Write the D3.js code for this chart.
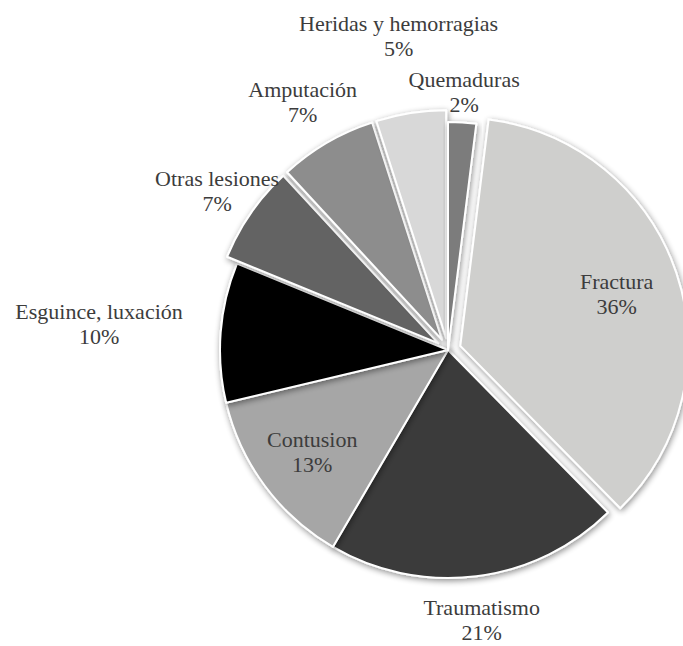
<!DOCTYPE html>
<html><head><meta charset="utf-8">
<script src="https://cdn.jsdelivr.net/npm/d3@7"></script>
<style>html,body{margin:0;padding:0;background:#fff;} svg{display:block}</style>
</head><body>
<svg id="chart" width="683" height="646" font-family="Liberation Serif"></svg>
<script>
// Data
const categories = ["Fractura","Traumatismo","Contusion","Esguince, luxación","Otras lesiones","Amputación","Heridas y hemorragias","Quemaduras"];
const values = [36,21,13,10,7,7,5,2];
const percentLabels = ["36%","21%","13%","10%","7%","7%","5%","2%"];

// Styles
const colors = ["#cfcfcd","#3a3a3a","#a6a6a6","#000000","#646464","#8d8d8d","#d8d8d8","#7b7b7b"];
const explode = [13,0,0,0,12,12,12,0];
const labelRadius = [178,271,169,350,281,288,319,260];

const W = 683, H = 646, cx = 448, cy = 350, R = 228;
const svg = d3.select("#chart");

const defs = svg.append("defs");
const f = defs.append("filter").attr("id","shadow").attr("x","-20%").attr("y","-20%").attr("width","140%").attr("height","140%");
f.append("feGaussianBlur").attr("in","SourceAlpha").attr("stdDeviation",3).attr("result","b");
f.append("feOffset").attr("in","b").attr("dx",1).attr("dy",2).attr("result","o");
f.append("feComponentTransfer").attr("in","o").attr("result","s")
  .append("feFuncA").attr("type","linear").attr("slope",0.45);
const m = f.append("feMerge");
m.append("feMergeNode").attr("in","s");
m.append("feMergeNode").attr("in","SourceGraphic");

const total = d3.sum(values);
const start = 2*Math.PI*values[values.length-1]/total;
const pie = d3.pie().sort(null).value(d=>d.v).startAngle(start).endAngle(start+2*Math.PI);
const data = categories.map((c,i)=>({c, v:values[i], p:percentLabels[i], i}));
const arcs = pie(data);
const arc = d3.arc().innerRadius(0).outerRadius(R);

const g = svg.append("g").attr("transform",`translate(${cx},${cy})`);

function dir(a){ return [Math.sin(a), -Math.cos(a)]; }

g.selectAll("path.slice").data(arcs).enter().append("path")
  .attr("class","slice")
  .attr("d",arc)
  .attr("fill",d=>colors[d.data.i])
  .attr("stroke","#ffffff")
  .attr("stroke-width",2)
  .attr("stroke-linejoin","round")
  .attr("filter","url(#shadow)")
  .attr("transform",d=>{
    const a=(d.startAngle+d.endAngle)/2, e=explode[d.data.i], [x,y]=dir(a);
    return `translate(${x*e},${y*e})`;
  });

// Labels: two separate text elements per slice, placed at the slice bisector
const FF = '"Liberation Serif"';
function labelPos(d){
  const a=(d.startAngle+d.endAngle)/2, r=labelRadius[d.data.i], [x,y]=dir(a);
  return [x*r, y*r];
}
arcs.forEach(d=>{
  const [x,y] = labelPos(d);
  g.append("text")
    .attr("x",x).attr("y",y-4)
    .attr("text-anchor","middle")
    .style("font-family",FF)
    .style("font-size","22px")
    .style("fill","#3c3c3c")
    .text(d.data.c);
  g.append("text")
    .attr("x",x).attr("y",y+21)
    .attr("text-anchor","middle")
    .style("font-family",FF)
    .style("font-size","22px")
    .style("fill","#3c3c3c")
    .text(d.data.p);
});
</script>
</body></html>
